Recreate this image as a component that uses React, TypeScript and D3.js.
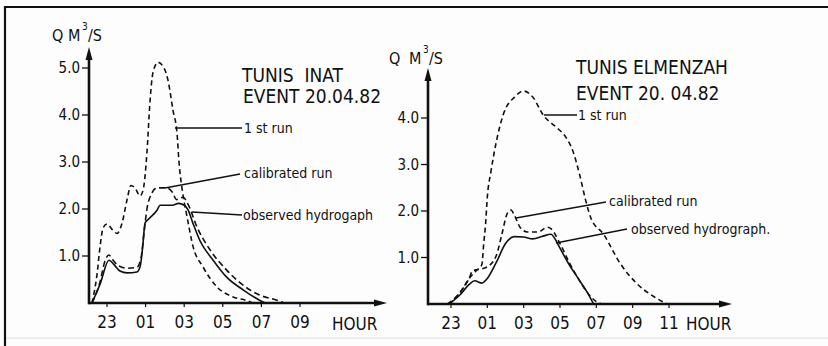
import React from "react";
import * as d3 from "d3";

// ---------- data (hours after 23:00, discharge m3/s) ----------
const inatTicks = ["23", "01", "03", "05", "07", "09"];
const elmTicks = ["23", "01", "03", "05", "07", "09", "11"];
const inatYTicks = [1, 2, 3, 4, 5];
const elmYTicks = [1, 2, 3, 4];

const inatObsT = [-0.78, -0.36, 0.1, 0.4, 0.67, 1.04, 1.55, 1.72, 1.85, 1.97, 2.12, 2.6, 2.75, 3.4, 3.7, 4.0, 4.2, 4.45, 4.8, 5.5, 6.2, 7.05, 7.9, 8.2];
const inatObsQ = [0, 0.4, 0.91, 0.8, 0.68, 0.64, 0.66, 0.78, 1.2, 1.7, 1.77, 1.98, 2.08, 2.08, 2.12, 2.08, 1.98, 1.7, 1.34, 0.91, 0.55, 0.28, 0.06, 0];

const inatCalT = [-0.78, -0.36, -0.1, 0.1, 0.3, 0.57, 1.04, 1.55, 1.76, 1.92, 2.07, 2.28, 2.6, 3.1, 3.4, 3.6, 3.94, 4.2, 4.66, 5.34, 6.2, 7.05, 7.9, 8.8, 9.2];
const inatCalQ = [0, 0.45, 0.9, 1.02, 0.92, 0.8, 0.74, 0.76, 0.95, 1.5, 2.0, 2.3, 2.45, 2.45, 2.35, 2.2, 2.25, 2.1, 1.62, 1.13, 0.7, 0.38, 0.17, 0.06, 0];

const inatRunT = [-0.78, -0.52, -0.36, -0.2, 0, 0.3, 0.52, 0.78, 1.04, 1.24, 1.45, 1.71, 1.87, 2.07, 2.23, 2.38, 2.64, 3.0, 3.16, 3.42, 3.63, 3.73, 3.9, 4.15, 4.46, 4.97, 5.7, 6.53, 7.25, 7.56];
const inatRunQ = [0, 0.6, 1.2, 1.6, 1.68, 1.55, 1.48, 1.7, 2.2, 2.5, 2.45, 2.28, 2.4, 3.2, 4.3, 4.9, 5.12, 4.96, 4.74, 4.1, 3.6, 3.0, 2.4, 1.83, 1.2, 0.77, 0.34, 0.13, 0.05, 0];

const elmObsT = [-0.1, 0.5, 1.0, 1.3, 1.7, 2.0, 2.5, 3.0, 3.5, 4.0, 4.5, 5.0, 5.5, 5.8, 6.0, 6.5, 7.0, 7.5, 7.85];
const elmObsQ = [0, 0.2, 0.42, 0.5, 0.45, 0.55, 0.9, 1.3, 1.45, 1.44, 1.4, 1.45, 1.5, 1.35, 1.2, 0.85, 0.55, 0.25, 0];

const elmCalT = [-0.1, 0.5, 1.0, 1.2, 1.5, 2.0, 2.5, 2.8, 3.1, 3.3, 3.5, 3.8, 4.2, 4.8, 5.3, 5.5, 6.0, 6.5, 7.0, 7.5, 8.0, 8.3];
const elmCalQ = [0, 0.25, 0.55, 0.72, 0.74, 0.8, 1.05, 1.5, 1.95, 2.02, 1.9, 1.65, 1.55, 1.55, 1.65, 1.62, 1.3, 0.9, 0.55, 0.25, 0.05, 0];

const elmRunT = [-0.2, 0.5, 1.0, 1.4, 1.7, 1.8, 1.9, 2.0, 2.2, 2.5, 2.9, 3.5, 4.0, 4.5, 5.1, 5.8, 6.3, 6.7, 7.1, 7.4, 7.7, 8.4, 9.3, 10.2, 11.2, 11.9];
const elmRunQ = [0, 0.25, 0.55, 0.72, 0.85, 1.3, 1.7, 2.3, 2.85, 3.5, 4.1, 4.45, 4.58, 4.45, 4.05, 3.8, 3.6, 3.3, 2.75, 2.25, 1.85, 1.5, 0.88, 0.45, 0.15, 0];

const FONT = "'DejaVu Sans Condensed', 'DejaVu Sans', sans-serif";

type Series = { t: number[]; q: number[]; dash?: string };

function Panel(props: {
  x0: number; xEnd: number; xh0: number; xhN: number; hN: number;
  y0: number; yTop: number; yMaxVal: number; yMaxPx: number;
  ticks: string[]; yTicks: number[]; series: Series[];
}) {
  const { x0, xEnd, xh0, xhN, hN, y0, yTop, yMaxVal, yMaxPx, ticks, yTicks, series } = props;
  const x = d3.scaleLinear().domain([0, hN]).range([xh0, xhN]);
  const y = d3.scaleLinear().domain([0, yMaxVal]).range([y0, yMaxPx]);
  const line = d3
    .line<[number, number]>()
    .x((d) => x(d[0]))
    .y((d) => y(d[1]))
    .curve(d3.curveMonotoneX);
  return (
    <g>
      {series.map((s, i) => (
        <path
          key={i}
          d={line(s.t.map((t, j) => [t, s.q[j]] as [number, number])) || ""}
          fill="none"
          stroke="#111"
          strokeWidth={1.6}
          strokeDasharray={s.dash}
        />
      ))}
      <line x1={x0} y1={y0} x2={xEnd - 8} y2={y0} stroke="#111" strokeWidth={2.6} />
      <path d={`M${xEnd},${y0} L${xEnd - 13},${y0 - 3.5} L${xEnd - 13},${y0 + 3.5} Z`} fill="#111" />
      <line x1={x0} y1={y0 + 1.3} x2={x0} y2={yTop + 8} stroke="#111" strokeWidth={2.6} />
      <path d={`M${x0},${yTop} L${x0 - 3.5},${yTop + 13} L${x0 + 3.5},${yTop + 13} Z`} fill="#111" />
      {yTicks.map((v) => (
        <g key={v}>
          <line x1={x0 - 7} x2={x0} y1={y(v)} y2={y(v)} stroke="#111" strokeWidth={1.3} />
          <text x={x0 - 9} y={y(v) + 5} textAnchor="end" fontSize={15} fontFamily={FONT} fill="#111">
            {v.toFixed(1)}
          </text>
        </g>
      ))}
      {ticks.map((lab, i) => (
        <g key={lab}>
          <line x1={x(i * 2)} x2={x(i * 2)} y1={y0} y2={y0 + 4} stroke="#111" strokeWidth={1.2} />
          <text x={x(i * 2)} y={y0 + 25} textAnchor="middle" fontSize={17} fontFamily={FONT} fill="#111">
            {lab}
          </text>
        </g>
      ))}
    </g>
  );
}

function Leader(props: { x1: number; y1: number; x2: number; y2: number; tx: number; ty: number; label: string }) {
  const { x1, y1, x2, y2, tx, ty, label } = props;
  return (
    <g>
      <line x1={x1} y1={y1} x2={x2} y2={y2} stroke="#111" strokeWidth={1.4} />
      <text x={tx} y={ty} fontSize={14} fontFamily={FONT} fill="#111">{label}</text>
    </g>
  );
}

function UnitLabel(props: { qx: number; mx: number; sx: number; slx: number; y: number }) {
  const { qx, mx, sx, slx, y } = props;
  return (
    <g fontFamily={FONT} fill="#111">
      <text x={qx} y={y} fontSize={16}>Q</text>
      <text x={mx} y={y} fontSize={16}>M</text>
      <text x={sx} y={y - 11} fontSize={10}>3</text>
      <text x={slx} y={y} fontSize={16}>/S</text>
    </g>
  );
}

export default function App() {
  return (
    <svg width={828} height={346} style={{ position: "absolute", left: 0, top: 0, background: "#fff" }}>
      <rect x={0} y={0} width={828} height={346} fill="#fdfdfd" />
      <line x1={5} y1={7} x2={828} y2={7} stroke="#111" strokeWidth={2.2} />
      <line x1={5} y1={6} x2={5} y2={346} stroke="#111" strokeWidth={2.2} />
      <line x1={6} y1={338} x2={828} y2={338} stroke="#ddd" strokeWidth={1} />

      {/* left panel: TUNIS INAT */}
      <Panel
        x0={89} xEnd={387} xh0={107} xhN={300} hN={10}
        y0={303} yTop={47} yMaxVal={5} yMaxPx={68}
        ticks={inatTicks} yTicks={inatYTicks}
        series={[
          { t: inatObsT, q: inatObsQ },
          { t: inatCalT, q: inatCalQ, dash: "6,3.5" },
          { t: inatRunT, q: inatRunQ, dash: "5,3.5" },
        ]}
      />
      <UnitLabel qx={52} mx={68} sx={82} slx={88} y={41} />
      <text x={242} y={82} fontSize={19} fontFamily={FONT} fill="#111" xmlSpace="preserve">TUNIS  INAT</text>
      <text x={243} y={103} fontSize={19} fontFamily={FONT} fill="#111">EVENT 20.04.82</text>
      <text x={332} y={330} fontSize={17} fontFamily={FONT} fill="#111">HOUR</text>
      <Leader x1={175} y1={128} x2={242} y2={128} tx={244} ty={133} label="1 st run" />
      <Leader x1={165} y1={188} x2={240} y2={174} tx={244} ty={178} label="calibrated run" />
      <Leader x1={192} y1={212} x2={242} y2={215} tx={243} ty={220} label="observed hydrogaph" />

      {/* right panel: TUNIS ELMENZAH */}
      <Panel
        x0={428} xEnd={732} xh0={451} xhN={669} hN={12}
        y0={304} yTop={68} yMaxVal={4} yMaxPx={118}
        ticks={elmTicks} yTicks={elmYTicks}
        series={[
          { t: elmObsT, q: elmObsQ },
          { t: elmCalT, q: elmCalQ, dash: "5,3.5" },
          { t: elmRunT, q: elmRunQ, dash: "5,3.5" },
        ]}
      />
      <UnitLabel qx={389} mx={409} sx={423} slx={429} y={64} />
      <text x={576} y={74} fontSize={19} fontFamily={FONT} fill="#111">TUNIS ELMENZAH</text>
      <text x={576} y={100} fontSize={19} fontFamily={FONT} fill="#111">EVENT 20. 04.82</text>
      <text x={686} y={330} fontSize={17} fontFamily={FONT} fill="#111">HOUR</text>
      <Leader x1={544} y1={115} x2={577} y2={115} tx={578} ty={120} label="1 st run" />
      <Leader x1={516} y1={218} x2={606} y2={202} tx={609} ty={206} label="calibrated run" />
      <Leader x1={556} y1={243} x2={627} y2={229} tx={631} ty={234} label="observed hydrograph." />
    </svg>
  );
}
